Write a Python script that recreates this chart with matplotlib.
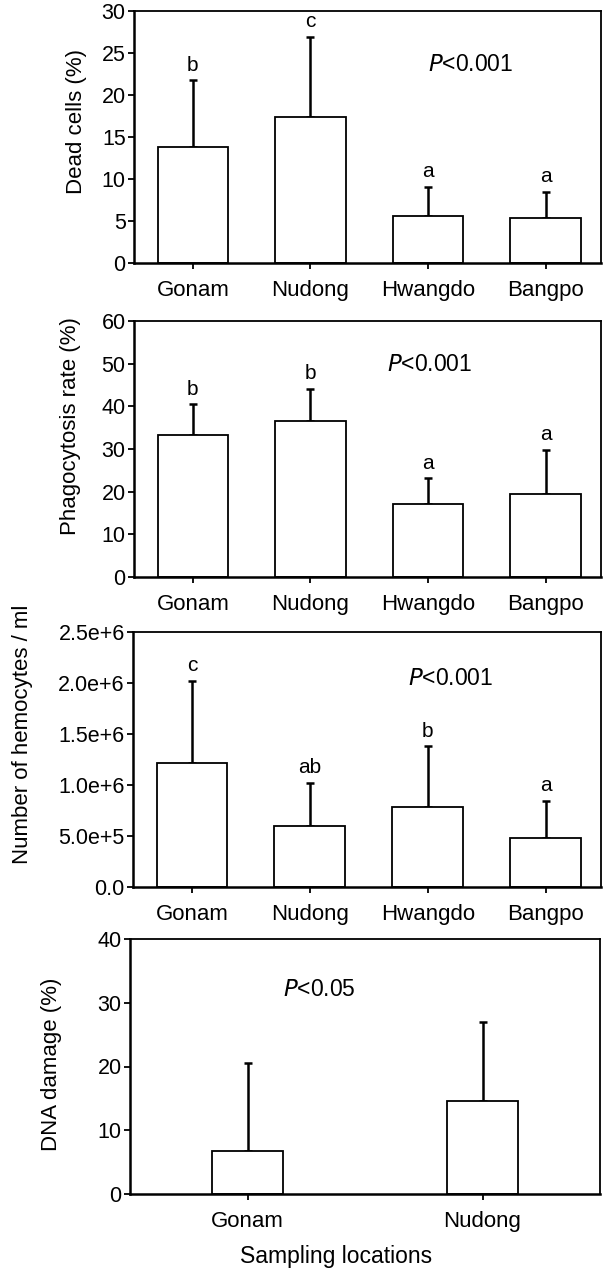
import math

import matplotlib

matplotlib.use("Agg")
import matplotlib.pyplot as plt
from matplotlib.ticker import FuncFormatter

plt.rcParams["font.family"] = ["Liberation Sans", "DejaVu Sans"]

# --- data ---
sites = ["Gonam", "Nudong", "Hwangdo", "Bangpo"]

dead_mean = [13.85, 17.35, 5.6, 5.4]
dead_upper = [21.75, 26.9, 9.05, 8.5]
dead_letters = ["b", "c", "a", "a"]

phago_mean = [33.3, 36.6, 17.0, 19.4]
phago_upper = [40.5, 44.1, 23.1, 29.8]
phago_letters = ["b", "b", "a", "a"]

hemo_mean = [1.213e6, 0.598e6, 0.787e6, 0.477e6]
hemo_upper = [2.02e6, 1.02e6, 1.38e6, 0.843e6]
hemo_letters = ["c", "ab", "b", "a"]

dna_sites = ["Gonam", "Nudong"]
dna_mean = [6.7, 14.6]
dna_upper = [20.5, 27.0]


def sci_fmt(v, pos):
    if v == 0:
        return "0.0"
    e = int(math.floor(math.log10(abs(v)) + 1e-9))
    return f"{v / 10 ** e:.1f}e+{e}"


def bar_panel(ax, labels, means, uppers, letters, width, ylim, yticks,
              ylabel, ylabel_y, ylabel_x, ptext, ppos):
    x = list(range(len(labels)))
    errs = [u - m for u, m in zip(uppers, means)]
    ax.bar(x, means, width=width, color="white", edgecolor="black",
           linewidth=1.3, zorder=2)
    ax.errorbar(x, means, yerr=[[0] * len(x), errs], fmt="none",
                ecolor="black", elinewidth=1.8, capsize=2.6, capthick=1.8,
                zorder=1)
    span = ylim[1] - ylim[0]
    if letters:
        for xi, u, lab in zip(x, uppers, letters):
            ax.text(xi, u + span * 0.022, lab, ha="center", va="bottom",
                    fontsize=15)
    ax.set_ylim(*ylim)
    ax.set_yticks(yticks)
    ax.set_xticks(x)
    ax.set_xticklabels(labels, fontsize=16)
    ax.tick_params(axis="y", labelsize=15.5, length=4, width=1.3,
                   direction="out", pad=2)
    ax.tick_params(axis="x", length=4, width=1.3, direction="out", pad=8)
    for side in ["left", "bottom"]:
        ax.spines[side].set_linewidth(1.8)
    for side in ["top", "right"]:
        ax.spines[side].set_linewidth(1.3)
    ax.set_ylabel(ylabel, fontsize=16)
    ax.yaxis.set_label_coords(ylabel_x, ylabel_y)
    ax.text(ppos[0], ppos[1], "$\\it{P}$" + ptext, fontsize=16.5,
            ha="left", va="center")


fig = plt.figure(figsize=(6.03, 12.7), dpi=100)

ax1 = fig.add_axes([134 / 603, 1 - 263 / 1270, 467 / 603, 252 / 1270])
bar_panel(ax1, sites, dead_mean, dead_upper, dead_letters, 0.6, (0, 30),
          [0, 5, 10, 15, 20, 25, 30], "Dead cells (%)", 0.56, -0.10,
          "<0.001", (2.0, 23.6))
ax1.set_xlim(-0.5, 3.47)

ax2 = fig.add_axes([134 / 603, 1 - 577 / 1270, 467 / 603, 256 / 1270])
bar_panel(ax2, sites, phago_mean, phago_upper, phago_letters, 0.6, (0, 60),
          [0, 10, 20, 30, 40, 50, 60], "Phagocytosis rate (%)", 0.59, -0.113,
          "<0.001", (1.65, 49.7))
ax2.set_xlim(-0.5, 3.47)

ax3 = fig.add_axes([133 / 603, 1 - 887 / 1270, 468 / 603, 255 / 1270])
bar_panel(ax3, sites, hemo_mean, hemo_upper, hemo_letters, 0.6, (0, 2.5e6),
          [0, 0.5e6, 1.0e6, 1.5e6, 2.0e6, 2.5e6], "Number of hemocytes / ml",
          0.60, -0.214, "<0.001", (1.83, 2.04e6))
ax3.yaxis.set_major_formatter(FuncFormatter(sci_fmt))
ax3.set_xlim(-0.5, 3.47)

ax4 = fig.add_axes([130 / 603, 1 - 1194 / 1270, 470 / 603, 255 / 1270])
bar_panel(ax4, dna_sites, dna_mean, dna_upper, None, 0.3, (0, 40),
          [0, 10, 20, 30, 40], "DNA damage (%)", 0.51, -0.145,
          "<0.05", (0.15, 32.0))
ax4.set_xlim(-0.5, 1.5)

fig.text(336 / 603, 1 - 1257 / 1270, "Sampling locations", fontsize=16.5,
         ha="center", va="center")

fig.savefig("out.png", dpi=100)
plt.close(fig)
